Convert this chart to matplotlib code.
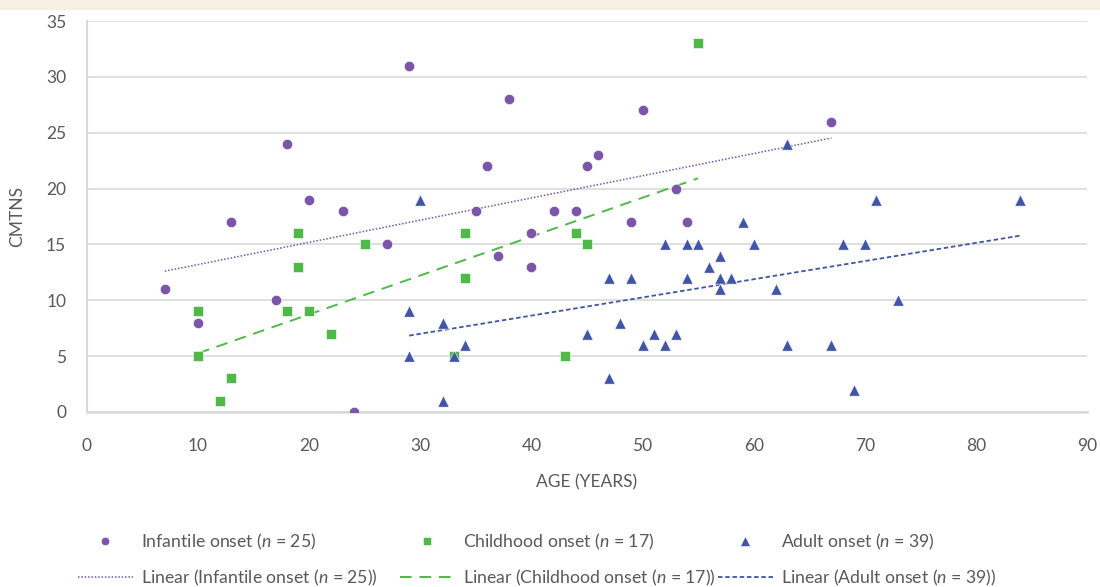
import numpy as np
import matplotlib
matplotlib.use('Agg')
import matplotlib.pyplot as plt
from matplotlib.lines import Line2D
from matplotlib.patches import Rectangle

plt.rcParams['font.family'] = ['Lato', 'DejaVu Sans']
plt.rcParams['mathtext.fontset'] = 'custom'
plt.rcParams['mathtext.it'] = 'Lato:italic'
plt.rcParams['mathtext.rm'] = 'Lato'

# Data (age in years, CMTNS score)
infantileAge = [7, 10, 13, 17, 18, 20, 23, 24, 27, 29, 35, 36, 37, 38, 40, 40, 42, 44, 45, 46, 49, 50, 53, 54, 67]
infantileScore = [11, 8, 17, 10, 24, 19, 18, 0, 15, 31, 18, 22, 14, 28, 16, 13, 18, 18, 22, 23, 17, 27, 20, 17, 26]

childhoodAge = [10, 10, 12, 13, 18, 19, 19, 20, 22, 25, 33, 34, 34, 43, 44, 45, 55]
childhoodScore = [9, 5, 1, 3, 9, 16, 13, 9, 7, 15, 5, 16, 12, 5, 16, 15, 33]

adultAge = [29, 29, 30, 32, 32, 33, 34, 45, 47, 47, 48, 49, 50, 51, 52, 52, 53, 54, 54, 55,
            56, 57, 57, 57, 58, 59, 60, 62, 63, 63, 67, 68, 69, 70, 71, 73, 84]
adultScore = [9, 5, 19, 8, 1, 5, 6, 7, 12, 3, 8, 12, 6, 7, 6, 15, 7, 15, 12, 15,
              13, 14, 12, 11, 12, 17, 15, 11, 24, 6, 6, 15, 2, 15, 19, 10, 19]

labels = [r'Infantile onset ($\it{n}$ = 25)',
          r'Childhood onset ($\it{n}$ = 17)',
          r'Adult onset ($\it{n}$ = 39)']

purple = '#7b56a8'
green = '#4fb848'
blue = '#4155a5'
gray = '#595959'

fig = plt.figure(figsize=(11, 5.87), dpi=100)
ax = fig.add_axes([87/1100, 1 - 412/587, 1000/1100, 391/587])

# Beige band on top of the figure
fig.patches.append(Rectangle((0, 1 - 10/587), 1, 10/587, transform=fig.transFigure,
                             facecolor='#f5f0e1', edgecolor='none', zorder=0))

# Scatter points
ax.scatter(infantileAge, infantileScore, s=55, marker='o', color=purple,
           edgecolors='white', linewidths=0.4, zorder=3)
ax.scatter(childhoodAge, childhoodScore, s=55, marker='s', color=green,
           edgecolors='white', linewidths=0.4, zorder=3)
ax.scatter(adultAge, adultScore, s=66, marker='^', color=blue,
           edgecolors='white', linewidths=0.4, zorder=3)

# Linear trend lines over the range of each group
def trend(x, y):
    x = np.array(x, float)
    y = np.array(y, float)
    k, b = np.polyfit(x, y, 1)
    xs = np.array([x.min(), x.max()])
    return xs, k * xs + b

tx, ty = trend(infantileAge, infantileScore)
ax.plot(tx, ty, color=purple, linewidth=1.1, linestyle=(0, (1, 1.2)), zorder=2)
tx, ty = trend(childhoodAge, childhoodScore)
ax.plot(tx, ty, color=green, linewidth=1.4, linestyle=(0, (6, 4)), zorder=2)
tx, ty = trend(adultAge, adultScore)
ax.plot(tx, ty, color=blue, linewidth=1.3, linestyle=(0, (2.5, 1.5)), zorder=2)

# Axes styling
ax.set_xlim(0, 90)
ax.set_ylim(0, 35)
ax.set_xticks(np.arange(0, 91, 10))
ax.set_yticks(np.arange(0, 36, 5))
ax.grid(axis='y', color='#d9d9d9', linewidth=1.2)
ax.set_axisbelow(True)
for s in ['top', 'right']:
    ax.spines[s].set_visible(False)
ax.spines['left'].set_color('#d9d9d9')
ax.spines['left'].set_linewidth(1.5)
ax.spines['bottom'].set_color('#d9d9d9')
ax.spines['bottom'].set_linewidth(1.8)
ax.tick_params(length=0, labelsize=12.5, labelcolor=gray)
ax.tick_params(axis='x', pad=19)
ax.tick_params(axis='y', pad=15)

ax.set_xlabel('AGE (YEARS)', fontsize=12.5, color=gray)
ax.xaxis.set_label_coords(0.5, -0.16)
ax.set_ylabel('CMTNS', fontsize=12.5, color=gray)
ax.yaxis.set_label_coords(-0.062, 0.5)

# Legend: one small legend per column, scatter entry above trend line entry
colors = [purple, green, blue]
markers = ['o', 's', '^']
msizes = [6, 6, 6.5]
styles = [(0, (1, 1.2)), (0, (6, 4)), (0, (2.5, 1.5))]
widths = [1.1, 1.4, 1.3]
xStarts = [78, 400, 718]
for i in range(3):
    h1 = Line2D([], [], linestyle='none', marker=markers[i], markersize=msizes[i],
                color=colors[i], markeredgecolor='white', markeredgewidth=0.4)
    h2 = Line2D([], [], color=colors[i], linestyle=styles[i], linewidth=widths[i])
    fig.legend([h1, h2], [labels[i], 'Linear (' + labels[i] + ')'],
               loc='center left', bbox_to_anchor=(xStarts[i]/1100, 1 - 559.5/587),
               frameon=False, fontsize=12.7, labelcolor=gray, handlelength=3.1,
               handletextpad=0.45, labelspacing=0.9, borderpad=0, borderaxespad=0)

plt.savefig('out.png', dpi=100)
